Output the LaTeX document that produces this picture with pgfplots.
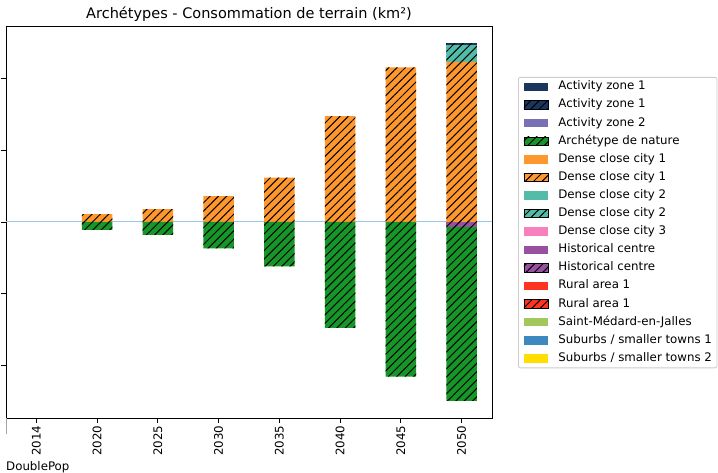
\documentclass[border=0pt]{standalone}
\usepackage{fontspec}
\setmainfont{DejaVu Sans}
\usepackage{pgfplots}
\usepackage{pgfplotstable}
\pgfplotsset{compat=1.18}
\usetikzlibrary{patterns.meta}

\definecolor{az1}{RGB}{27,54,93}
\definecolor{az2}{RGB}{120,112,180}
\definecolor{nat}{RGB}{22,150,40}
\definecolor{dc1}{RGB}{254,152,46}
\definecolor{dc2}{RGB}{82,188,168}
\definecolor{dc3}{RGB}{247,128,191}
\definecolor{hist}{RGB}{152,80,160}
\definecolor{rur}{RGB}{252,52,32}
\definecolor{smj}{RGB}{162,200,92}
\definecolor{sub1}{RGB}{62,136,192}
\definecolor{sub2}{RGB}{255,222,0}
\definecolor{zeroline}{RGB}{150,200,235}
\definecolor{legframe}{RGB}{204,204,204}

\tikzset{hatch/.style={postaction={pattern={Lines[angle=45,distance=5.9pt,line width=1.0pt]},pattern color=black}}}

% positive stack (bottom to top)
\pgfplotstableread{
x dc1h dc2h az1h
0 0    0    0
1 0.11 0    0
2 0.18 0    0
3 0.36 0    0
4 0.62 0    0
5 1.48 0    0
6 2.16 0    0
7 2.24 0.24 0.02
}\postab

% negative stack (top to bottom)
\pgfplotstableread{
x histh nat
0 0     0
1 0     -0.11
2 0     -0.18
3 0     -0.37
4 0     -0.62
5 0     -1.48
6 0     -2.16
7 -0.07 -2.43
}\negtab

\pgfplotsset{
  common/.style={
    width=486pt, height=392pt, scale only axis,
    at={(6pt,55pt)}, anchor=south west,
    xmin=-0.5, xmax=7.5, ymin=-2.74, ymax=2.74,
    clip=false,
  },
}

\begin{document}
\begin{tikzpicture}[font=\fontsize{11.8}{14}\selectfont]
\useasboundingbox (0pt,0pt) rectangle (718pt,473pt);

% frame axis with ticks, title, zero line and legend
\begin{axis}[
  common,
  xtick={0,...,7},
  xticklabels={2014,2020,2025,2030,2035,2040,2045,2050},
  xticklabel style={rotate=90, anchor=east, inner sep=2.5pt},
  ytick={-2,-1,0,1,2},
  yticklabels={},
  tick align=outside, tick pos=left,
  major tick length=5pt,
  axis line style={line width=0.9pt},
  every tick/.style={black, line width=0.9pt},
  title={Archétypes - Consommation de terrain (km²)},
  title style={font=\fontsize{14.5}{17}\selectfont, anchor=base, at={(0.5,1)}, yshift=1.5pt, inner sep=0pt},
  legend image code/.code={\path[#1, draw=none, sharp corners] (0pt,-4.25pt) rectangle (24pt,4.25pt);},
  legend cell align=left,
  legend style={
    at={(1.0535,0.870)}, anchor=north west,
    draw=legframe, line width=0.8pt, rounded corners=2pt, fill=white,
    inner xsep=5pt, inner ysep=3.5pt,
    row sep=6.1pt, column sep=0pt,
    nodes={inner xsep=0pt, inner ysep=0pt, text height=9pt, text depth=3pt},
    /tikz/every odd column/.append style={column sep=10pt},
    font=\fontsize{11.8}{14}\selectfont,
  },
]
\draw[zeroline, line width=1pt] (axis cs:-0.5,0) -- (axis cs:7.5,0);
\addlegendimage{fill=az1}
\addlegendentry{Activity zone 1}
\addlegendimage{fill=az1, hatch}
\addlegendentry{Activity zone 1}
\addlegendimage{fill=az2}
\addlegendentry{Activity zone 2}
\addlegendimage{fill=nat, hatch}
\addlegendentry{Archétype de nature}
\addlegendimage{fill=dc1}
\addlegendentry{Dense close city 1}
\addlegendimage{fill=dc1, hatch}
\addlegendentry{Dense close city 1}
\addlegendimage{fill=dc2}
\addlegendentry{Dense close city 2}
\addlegendimage{fill=dc2, hatch}
\addlegendentry{Dense close city 2}
\addlegendimage{fill=dc3}
\addlegendentry{Dense close city 3}
\addlegendimage{fill=hist}
\addlegendentry{Historical centre}
\addlegendimage{fill=hist, hatch}
\addlegendentry{Historical centre}
\addlegendimage{fill=rur}
\addlegendentry{Rural area 1}
\addlegendimage{fill=rur, hatch}
\addlegendentry{Rural area 1}
\addlegendimage{fill=smj}
\addlegendentry{Saint-Médard-en-Jalles}
\addlegendimage{fill=sub1}
\addlegendentry{Suburbs / smaller towns 1}
\addlegendimage{fill=sub2}
\addlegendentry{Suburbs / smaller towns 2}
\end{axis}

% positive stacked bars
\begin{axis}[common, hide axis, ybar stacked, bar width=0.5]
\addplot[fill=dc1, draw=none, hatch] table[x=x, y=dc1h] {\postab};
\addplot[fill=dc2, draw=none, hatch] table[x=x, y=dc2h] {\postab};
\addplot[fill=az1, draw=none, hatch] table[x=x, y=az1h] {\postab};
\end{axis}

% negative stacked bars
\begin{axis}[common, hide axis, ybar stacked, bar width=0.5]
\addplot[fill=hist, draw=none, hatch] table[x=x, y=histh] {\negtab};
\addplot[fill=nat, draw=none, hatch] table[x=x, y=nat] {\negtab};
\end{axis}

\draw[gray!70, line width=0.9pt] (6pt,55pt) -- (6pt,39pt);
\node[anchor=base west, inner sep=0pt] at (6pt,2pt) {DoublePop};
\end{tikzpicture}
\end{document}
